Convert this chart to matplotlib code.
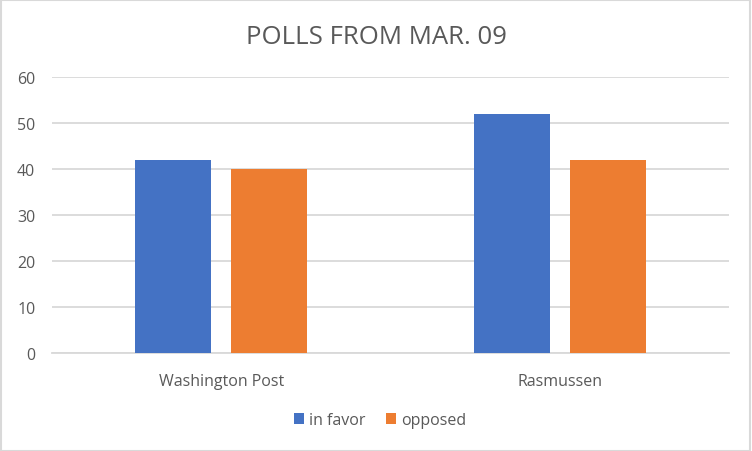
import matplotlib.pyplot as plt
import numpy as np

# poll results
polls = ['Washington Post', 'Rasmussen']
in_favor = [42, 52]
opposed = [40, 42]
yticks = [0, 10, 20, 30, 40, 50, 60]

blue = '#4472C4'
orange = '#ED7D31'
grey_text = '#595959'
grid_col = '#D9D9D9'

plt.rcParams['font.family'] = ['Open Sans', 'DejaVu Sans']

fig = plt.figure(figsize=(7.52, 4.52), dpi=100)
ax = fig.add_axes([52 / 752, 1 - 354 / 452, 677 / 752, 276 / 452])

x = np.arange(len(polls))
w = 76 / 338.5
off = 48 / 338.5
ax.bar(x - off, in_favor, w, color=blue, label='in favor', zorder=3)
ax.bar(x + off, opposed, w, color=orange, label='opposed', zorder=3)

ax.set_xlim(-0.5, 1.5)
ax.set_ylim(0, 60)
ax.set_yticks(yticks)
ax.set_xticks(x)
ax.set_xticklabels(polls)
ax.yaxis.grid(True, color=grid_col, linewidth=1.3, zorder=0)
for s in ['top', 'right', 'left']:
    ax.spines[s].set_visible(False)
ax.spines['bottom'].set_color(grid_col)
ax.spines['bottom'].set_linewidth(1.3)
ax.tick_params(axis='both', length=0, labelsize=11.5, colors=grey_text)
ax.tick_params(axis='y', pad=12)
ax.tick_params(axis='x', pad=14.5)

fig.text(0.5, 1 - 38 / 452, 'POLLS FROM MAR. 09', ha='center', va='center',
         fontsize=18.5, color=grey_text)

fig.legend(loc='center', bbox_to_anchor=(380 / 752, 1 - 421 / 452), ncol=2,
           frameon=False, fontsize=11.5, labelcolor=grey_text,
           handlelength=0.65, handleheight=0.65, handletextpad=0.3,
           columnspacing=1.3)

# light border around the chart
fig.patches.append(plt.Rectangle((0.001, 0.001), 0.997, 0.996, transform=fig.transFigure,
                                 fill=False, edgecolor=grid_col, linewidth=1.5))

fig.savefig('out.png', dpi=100)
